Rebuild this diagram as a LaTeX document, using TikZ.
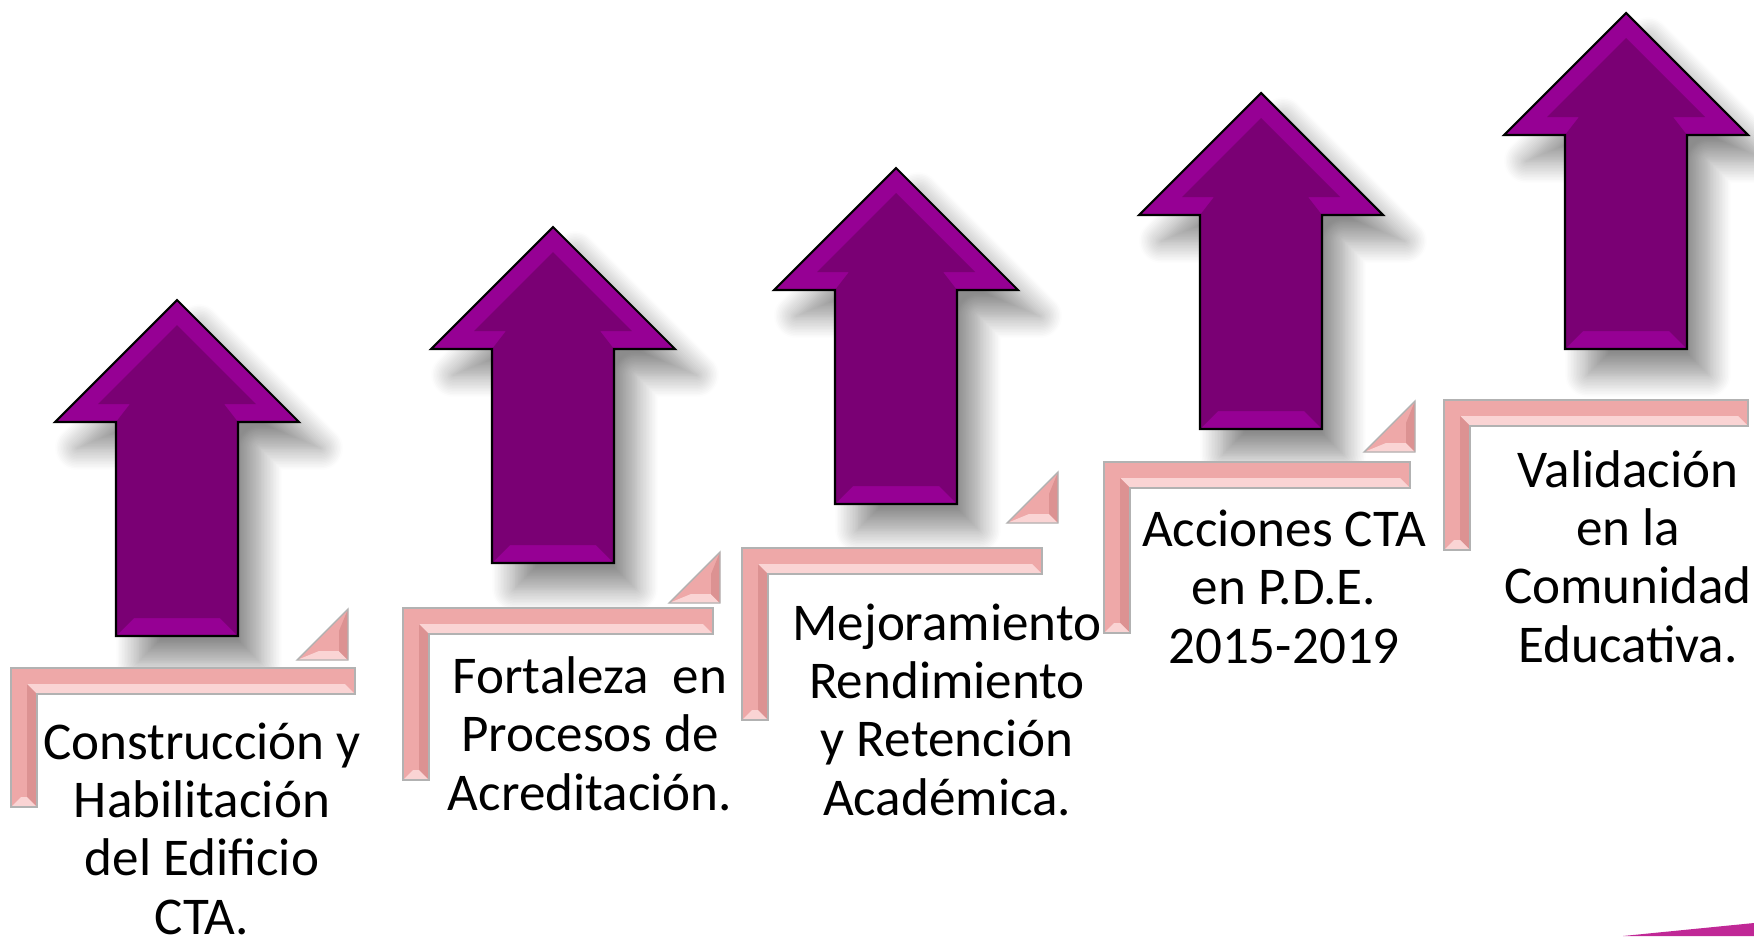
\documentclass[tikz,border=0pt]{standalone}
\usepackage{fontspec}
\setmainfont{Carlito}
\usetikzlibrary{shadows.blur}
\definecolor{arrowdark}{RGB}{122,0,116}
\definecolor{arrowlight}{RGB}{150,0,148}
\definecolor{steppink}{RGB}{238,168,168}
\definecolor{steplight}{RGB}{250,212,212}
\definecolor{stepdark}{RGB}{220,146,146}
\definecolor{stepedge}{RGB}{178,178,178}
\definecolor{cornermagenta}{RGB}{192,40,150}
\newcommand{\arrowoutline}{(0,0) -- (122,122) -- (61,122) -- (61,336) -- (-61,336) -- (-61,122) -- (-122,122) -- cycle}
\newcommand{\arrowface}{(0,25) -- (79,104) -- (47,104) -- (61,122) -- (61,336) -- (43,318) -- (-43,318) -- (-61,336) -- (-61,122) -- (-47,104) -- (-79,104) -- cycle}

\begin{document}
\begin{tikzpicture}[x=0.01cm,y=-0.01cm,
    arrowshadow/.style={blur shadow={shadow xshift=0.22cm,shadow yshift=-0.26cm,shadow blur radius=0.22cm,shadow blur steps=15,shadow opacity=45}},
    stepbar/.style={fill=steppink},
    steptext/.style={align=center,anchor=base,inner sep=0pt,font=\fontsize{15.1}{16.5}\selectfont}]
    \useasboundingbox (0,0) rectangle (1754,936);

    % arrows
    \foreach \cx/\ty in {177/300,553/227,896/168,1261/93,1626/13}{
      \begin{scope}[shift={(\cx,\ty)}]
        \fill[arrowlight,arrowshadow] \arrowoutline;
        \fill[arrowdark] \arrowface;
        \draw[black,line width=0.6pt,line join=miter] \arrowoutline;
      \end{scope}
    }

    % steps
    \foreach \bx/\by/\bw/\bh in {11/668/344/139,403/608/310/172,742/548/300/172,1104/462/306/171,1444/400/304/150}{
      \begin{scope}[shift={(\bx,\by)}]
        \fill[stepbar] (0,0) -- (\bw,0) -- (\bw,26) -- (26,26) -- (26,\bh) -- (0,\bh) -- cycle;
        \fill[steplight] (16,16) -- ({\bw-10},16) -- (\bw,26) -- (26,26) -- cycle;
        \fill[stepdark] (16,16) -- (26,26) -- (26,\bh) -- (16,{\bh-10}) -- cycle;
        \fill[steplight] (0,\bh) -- (26,\bh) -- (16,{\bh-10}) -- (10,{\bh-10}) -- cycle;
        \draw[stepedge,line width=0.4pt] (0,0) -- (\bw,0) -- (\bw,26) -- (26,26) -- (26,\bh) -- (0,\bh) -- cycle;
      \end{scope}
    }
    \foreach \tx/\ty in {348/660,720/603,1058/523,1415/452}{
      \begin{scope}[shift={(\tx,\ty)}]
        \fill[steppink] (-51,0) -- (0,0) -- (0,-51) -- cycle;
        \fill[steplight] (-51,0) -- (0,0) -- (-9,-9) -- (-29,-9) -- cycle;
        \fill[stepdark] (0,0) -- (0,-51) -- (-9,-29) -- (-9,-9) -- cycle;
        \draw[stepedge,line width=0.4pt] (-51,0) -- (0,0) -- (0,-51) -- cycle;
      \end{scope}
    }

    \node[steptext] (construccion) at (202,934) {Construcción y\\Habilitación\\del Edificio\\CTA.};
    \node[steptext] (fortaleza) at (590,810) {Fortaleza\ \ en\\Procesos de\\Acreditación.};
    \node[steptext] (mejoramiento) at (947,815) {Mejoramiento\\Rendimiento\\y Retención\\Académica.};
    \node[steptext] (acciones) at (1284,663) {Acciones CTA\\en P.D.E.\\2015-2019};
    \node[steptext] (validacion) at (1628,662) {Validación\\en la\\Comunidad\\Educativa.};

    \fill[cornermagenta] (1623,936) -- (1754,923) -- (1754,936) -- cycle;
\end{tikzpicture}
\end{document}
